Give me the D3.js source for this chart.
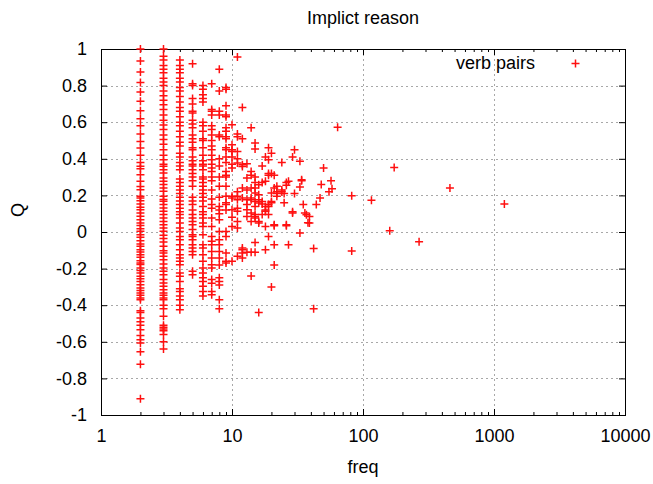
<!DOCTYPE html>
<html>
<head>
<meta charset="utf-8">
<script src="https://cdn.jsdelivr.net/npm/d3@7"></script>
<style>
  html, body { margin: 0; padding: 0; background: #fff; }
  svg { display: block; font-family: "Liberation Sans", Arial, sans-serif; }
</style>
</head>
<body>
<svg id="chart" width="653" height="484"></svg>
<script>
// Yule's Q against pair frequency, one column of values per low frequency
const q2 = [1.0, 0.935, 0.874, 0.817, 0.765, 0.714, 0.663, 0.619, 0.58, 0.535, 0.495, 0.459, 0.419, 0.38,
  0.359, 0.346, 0.313, 0.277, 0.249, 0.231, 0.195, 0.186, 0.171, 0.153, 0.135, 0.122, 0.104, 0.086, 0.067,
  0.049, 0.036, 0.018, 0.004, -0.015, -0.029, -0.048, -0.066, -0.078, -0.097, -0.109, -0.124, -0.138,
  -0.157, -0.17, -0.178, -0.197, -0.211, -0.224, -0.242, -0.255, -0.27, -0.288, -0.306, -0.32, -0.333,
  -0.345, -0.36, -0.37, -0.43, -0.44, -0.47, -0.49, -0.51, -0.534, -0.565, -0.589, -0.607, -0.654, -0.723, -0.911];
const q3 = [1.0, 0.96, 0.94, 0.91, 0.89, 0.87, 0.84, 0.82, 0.80, 0.77, 0.745, 0.72, 0.695, 0.67, 0.64, 0.61,
  0.585, 0.56, 0.53, 0.505, 0.48, 0.45, 0.42, 0.395, 0.37, 0.359, 0.34, 0.322, 0.295, 0.277, 0.259, 0.24,
  0.222, 0.195, 0.177, 0.168, 0.15, 0.131, 0.113, 0.095, 0.077, 0.058, 0.04, 0.022, 0.004, -0.018, -0.036,
  -0.055, -0.078, -0.102, -0.115, -0.133, -0.151, -0.175, -0.197, -0.215, -0.233, -0.26, -0.279, -0.297,
  -0.315, -0.333, -0.345, -0.36, -0.37, -0.40, -0.42, -0.46, -0.51, -0.52, -0.53, -0.54, -0.56, -0.60, -0.64];
const q4 = [0.94, 0.91, 0.89, 0.87, 0.84, 0.82, 0.79, 0.77, 0.74, 0.71, 0.68, 0.66, 0.63, 0.60, 0.58, 0.55,
  0.52, 0.49, 0.47, 0.43, 0.41, 0.38, 0.36, 0.34, 0.29, 0.27, 0.25, 0.23, 0.21, 0.19, 0.17, 0.15, 0.13, 0.11,
  0.095, 0.076, 0.049, 0.022, 0.003, -0.024, -0.042, -0.069, -0.097, -0.124, -0.142, -0.16, -0.179, -0.224,
  -0.242, -0.27, -0.31, -0.325, -0.35, -0.37, -0.40, -0.425];
const q5 = [0.92, 0.81, 0.80, 0.73, 0.70, 0.66, 0.65, 0.61, 0.59, 0.57, 0.53, 0.51, 0.49, 0.46, 0.45, 0.41,
  0.39, 0.37, 0.36, 0.34, 0.32, 0.30, 0.28, 0.25, 0.19, 0.17, 0.15, 0.12, 0.095, 0.076, 0.058, 0.04, 0.013,
  -0.015, -0.024, -0.042, -0.069, -0.088, -0.106, -0.124, -0.215, -0.233];
const q6 = [0.80, 0.78, 0.75, 0.73, 0.71, 0.60, 0.58, 0.55, 0.51, 0.50, 0.46, 0.42, 0.39, 0.37, 0.36, 0.34,
  0.30, 0.29, 0.27, 0.25, 0.23, 0.21, 0.19, 0.17, 0.14, 0.11, 0.095, 0.076, 0.049, 0.03, -0.015, -0.069,
  -0.088, -0.124, -0.16, -0.197, -0.224, -0.25, -0.27, -0.297, -0.325, -0.35];
const q7 = [0.81, 0.67, 0.66, 0.64, 0.58, 0.56, 0.53, 0.50, 0.47, 0.45, 0.42, 0.395, 0.37, 0.35, 0.33, 0.30,
  0.28, 0.23, 0.18, 0.15, 0.13, 0.076, 0.03, -0.024, -0.051, -0.069, -0.106, -0.142, -0.179, -0.197, -0.26,
  -0.28, -0.325, -0.343];
const q8 = [0.89, 0.77, 0.66, 0.64, 0.53, 0.52, 0.40, 0.36, 0.30, 0.25, 0.19, 0.14, 0.12, 0.10, 0.067, 0.003,
  -0.042, -0.069, -0.106, -0.142, -0.18, -0.25, -0.27, -0.29, -0.37, -0.42];
const q9 = [0.79, 0.78, 0.69, 0.64, 0.63, 0.57, 0.55, 0.52, 0.51, 0.46, 0.45, 0.41, 0.38, 0.33, 0.31, 0.30,
  0.25, 0.195, 0.16, 0.15, 0.12, 0.003, -0.024, -0.115, -0.16, -0.17];

// Pairs seen ten times or more: [freq, Q]
const higherFreqPairs = [
  [10, 0.586], [10, 0.477], [10, 0.45], [10, 0.44], [10, 0.41], [10, 0.37], [10, 0.35], [10, 0.195],
  [10, 0.186], [10, 0.122], [10, 0.08], [10, 0.03], [10, -0.16],
  [11, 0.956], [11, 0.535], [11, 0.52], [11, 0.44], [11, 0.40], [11, 0.377], [11, 0.22], [11, 0.195],
  [11, 0.176], [11, 0.113], [11, 0.13], [11, 0.058], [11, 0.022], [11, -0.133],
  [12, 0.68], [12, 0.51], [12, 0.368], [12, 0.358], [12, 0.24], [12, 0.186], [12, -0.088], [12, -0.097],
  [12, -0.115], [12, -0.142],
  [13, 0.373], [13, 0.295], [13, 0.23], [13, 0.176], [13, 0.15], [13, 0.122], [13, 0.085], [13, -0.11],
  [14, 0.57], [14, 0.33], [14, 0.31], [14, 0.24], [14, 0.186], [14, 0.176], [14, 0.104], [14, 0.058],
  [14, -0.11], [14, -0.24],
  [15, 0.486], [15, 0.453], [15, 0.30], [15, 0.27], [15, 0.24], [15, 0.213], [15, 0.167], [15, 0.14],
  [15, 0.095], [15, 0.085], [15, 0.076], [15, -0.057], [15, -0.11],
  [16, 0.258], [16, 0.204], [16, 0.176], [16, 0.158], [16, 0.058], [16, 0.049], [16, -0.44],
  [17, 0.36], [17, 0.27], [17, 0.167], [17, 0.153], [17, 0.095],
  [18, 0.41], [18, 0.277], [18, 0.14], [18, 0.12], [18, 0.113], [18, 0.03], [18, -0.097],
  [19, 0.46], [19, 0.395], [19, 0.32], [19, 0.31], [19, 0.15], [19, 0.14], [19, 0.095], [19, -0.024],
  [20, 0.43], [20, 0.32], [20, 0.213], [20, 0.167], [20, 0.16], [20, -0.30],
  [21, 0.31], [21, 0.24], [21, 0.04], [21, 0.034], [21, -0.07], [21, -0.18],
  [22, 0.25], [22, 0.22], [22, 0.21], [22, 0.195],
  [24, 0.38], [24, 0.23], [24, 0.22],
  [25, 0.21], [25, 0.16],
  [26, 0.27], [26, 0.255], [26, 0.04], [26, 0.034],
  [27, 0.277], [27, -0.07],
  [29, 0.41], [29, 0.11], [29, 0.104],
  [30, 0.45], [30, 0.21],
  [33, 0.386], [33, 0.246], [33, -0.005],
  [34, 0.286], [34, 0.28],
  [35, 0.15], [36, 0.104], [37, 0.094], [38, 0.05], [39, 0.085], [39, 0.049],
  [42, -0.42], [42, -0.09],
  [44, 0.15], [47, 0.186], [48, 0.26], [50, 0.35], [55, 0.22], [57, 0.28], [58, 0.237], [64, 0.572],
  [82, 0.198], [82, -0.104], [116, 0.173], [160, 0.007], [173, 0.353], [268, -0.053], [461, 0.24], [1200, 0.153]
];

const xTicks = [1, 10, 100, 1000, 10000];
const xTickLabels = ["1", "10", "100", "1000", "10000"];
const yTicks = [-1, -0.8, -0.6, -0.4, -0.2, 0, 0.2, 0.4, 0.6, 0.8, 1];
const yTickLabels = ["-1", "-0.8", "-0.6", "-0.4", "-0.2", "0", "0.2", "0.4", "0.6", "0.8", "1"];
const seriesName = "verb pairs";

const columns = [[2, q2], [3, q3], [4, q4], [5, q5], [6, q6], [7, q7], [8, q8], [9, q9]];
const points = columns.flatMap(([f, qs]) => qs.map(q => [f, q])).concat(higherFreqPairs);

const svg = d3.select("#chart");
const plotLeft = 101, plotRight = 625, plotTop = 49, plotBottom = 415;
const x = d3.scaleLog().domain([1, 10000]).range([plotLeft, plotRight]);
const y = d3.scaleLinear().domain([-1, 1]).range([plotBottom, plotTop]);
const fontSize = 18;
const pointColor = "#ff1010";

// Dotted grid at major ticks
const grid = svg.append("g").attr("stroke", "#a8a8a8").attr("stroke-width", 1)
  .attr("stroke-dasharray", "2,3").attr("shape-rendering", "crispEdges");
grid.selectAll("line.gx").data(xTicks.slice(1, -1)).join("line").attr("class", "gx")
  .attr("x1", d => Math.round(x(d)) + 0.5).attr("x2", d => Math.round(x(d)) + 0.5)
  .attr("y1", plotTop).attr("y2", plotBottom);
grid.selectAll("line.gy").data(yTicks.slice(1, -1)).join("line").attr("class", "gy")
  .attr("x1", plotLeft).attr("x2", plotRight)
  .attr("y1", d => Math.round(y(d)) + 0.5).attr("y2", d => Math.round(y(d)) + 0.5);

// Axes with inward ticks, mirrored on top and right
const minorX = [];
for (let dec = 1; dec < 10000; dec *= 10) for (let m = 2; m <= 9; m++) minorX.push(dec * m);

function styleAxis(g) {
  g.select(".domain").remove();
  g.selectAll("line").attr("stroke", "#000");
  g.selectAll("text").attr("font-size", fontSize).attr("fill", "#000")
    .attr("font-family", "Liberation Sans, Arial, sans-serif");
}
svg.append("g").attr("transform", `translate(0,${plotBottom})`)
  .call(d3.axisBottom(x).tickValues(xTicks).tickFormat((d, i) => xTickLabels[i]).tickSizeInner(-6).tickSizeOuter(0).tickPadding(14))
  .call(styleAxis);
svg.append("g").attr("transform", `translate(0,${plotBottom})`)
  .call(d3.axisBottom(x).tickValues(minorX).tickFormat("").tickSizeInner(-3).tickSizeOuter(0))
  .call(styleAxis);
svg.append("g").attr("transform", `translate(0,${plotTop})`)
  .call(d3.axisTop(x).tickValues(xTicks).tickFormat("").tickSizeInner(-6).tickSizeOuter(0))
  .call(styleAxis);
svg.append("g").attr("transform", `translate(0,${plotTop})`)
  .call(d3.axisTop(x).tickValues(minorX).tickFormat("").tickSizeInner(-3).tickSizeOuter(0))
  .call(styleAxis);
svg.append("g").attr("transform", `translate(${plotLeft},0)`)
  .call(d3.axisLeft(y).tickValues(yTicks).tickFormat((d, i) => yTickLabels[i]).tickSizeInner(-6).tickSizeOuter(0).tickPadding(14))
  .call(styleAxis);
svg.append("g").attr("transform", `translate(${plotRight},0)`)
  .call(d3.axisRight(y).tickValues(yTicks).tickFormat("").tickSizeInner(-6).tickSizeOuter(0))
  .call(styleAxis);

// Frame
svg.append("rect").attr("x", plotLeft + 0.5).attr("y", plotTop + 0.5)
  .attr("width", plotRight - plotLeft).attr("height", plotBottom - plotTop)
  .attr("fill", "none").attr("stroke", "#000").attr("stroke-width", 1);

// Points as plus signs
const plus = "M-4,0H4M0,-4V4";
svg.append("g").attr("stroke", pointColor).attr("stroke-width", 1.5).attr("fill", "none")
  .selectAll("path").data(points).join("path")
  .attr("d", plus)
  .attr("transform", d => `translate(${x(d[0])},${y(d[1])})`);

// Legend
svg.append("text").attr("x", 535).attr("y", 69).attr("text-anchor", "end")
  .attr("font-size", fontSize).text(seriesName);
svg.append("path").attr("d", plus).attr("stroke", pointColor).attr("stroke-width", 1.5)
  .attr("fill", "none").attr("transform", "translate(575.5,63.5)");

// Titles
svg.append("text").attr("x", (plotLeft + plotRight) / 2).attr("y", 24).attr("text-anchor", "middle")
  .attr("font-size", fontSize).text("Implict reason");
svg.append("text").attr("x", (plotLeft + plotRight) / 2).attr("y", 473).attr("text-anchor", "middle")
  .attr("font-size", fontSize).text("freq");
svg.append("text").attr("transform", `translate(24,210) rotate(-90)`)
  .attr("text-anchor", "middle").attr("font-size", fontSize).text("Q");
</script>
</body>
</html>
